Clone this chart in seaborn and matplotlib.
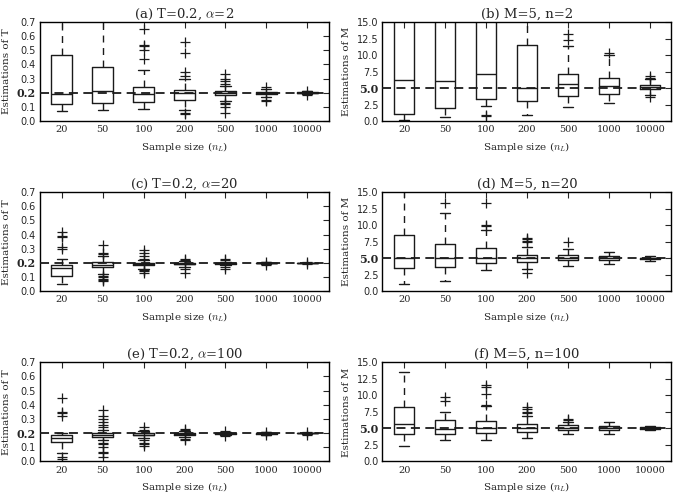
import matplotlib
matplotlib.use("Agg")
import matplotlib.pyplot as plt
import seaborn as sns

sizes = ["20", "50", "100", "200", "500", "1000", "10000"]

# (a) T=0.2, alpha=2
a_q1 = [0.12, 0.13, 0.135, 0.15, 0.185, 0.19, 0.197]
a_med = [0.195, 0.215, 0.195, 0.20, 0.20, 0.198, 0.200]
a_q3 = [0.47, 0.38, 0.24, 0.218, 0.215, 0.205, 0.203]
a_lo = [0.07, 0.08, 0.085, 0.08, 0.14, 0.17, 0.19]
a_hi = [0.95, 0.95, 0.36, 0.30, 0.25, 0.23, 0.21]
a_fl = [[], [], [0.44, 0.50, 0.53, 0.54, 0.65],
        [0.05, 0.06, 0.32, 0.35, 0.48, 0.56],
        [0.06, 0.10, 0.12, 0.13, 0.26, 0.28, 0.30, 0.33],
        [0.14, 0.15, 0.24], [0.185, 0.215]]

# (b) M=5, n=2
b_q1 = [1.1, 2.0, 3.4, 3.0, 3.8, 4.1, 4.8]
b_med = [6.2, 6.0, 7.2, 5.0, 5.6, 5.3, 5.1]
b_q3 = [20.0, 20.0, 20.0, 11.5, 7.2, 6.6, 5.5]
b_lo = [0.2, 0.7, 2.3, 1.0, 2.2, 2.7, 3.9]
b_hi = [25.0, 25.0, 25.0, 25.0, 11.3, 10.0, 6.3]
b_fl = [[], [], [0.8, 1.0], [], [12.2, 13.2], [10.3], [3.6, 6.6, 6.8]]

# (c) T=0.2, alpha=20
c_q1 = [0.105, 0.17, 0.185, 0.19, 0.195, 0.197, 0.199]
c_med = [0.165, 0.185, 0.193, 0.195, 0.199, 0.200, 0.200]
c_q3 = [0.185, 0.205, 0.20, 0.20, 0.203, 0.202, 0.201]
c_lo = [0.05, 0.12, 0.16, 0.175, 0.185, 0.19, 0.197]
c_hi = [0.23, 0.25, 0.22, 0.215, 0.21, 0.208, 0.203]
c_fl = [[0.30, 0.31, 0.38, 0.39, 0.42],
        [0.07, 0.08, 0.09, 0.10, 0.11, 0.26, 0.27, 0.33],
        [0.13, 0.14, 0.15, 0.23, 0.25, 0.27, 0.29],
        [0.13, 0.16, 0.22, 0.23], [0.16, 0.17, 0.22, 0.23],
        [0.185, 0.21], [0.19, 0.21]]

# (d) M=5, n=20
d_q1 = [3.5, 3.7, 4.3, 4.4, 4.7, 4.8, 4.85]
d_med = [5.0, 5.0, 5.1, 5.0, 5.1, 5.1, 5.0]
d_q3 = [8.5, 7.2, 6.6, 5.5, 5.5, 5.4, 5.1]
d_lo = [1.1, 1.6, 3.2, 3.4, 3.9, 4.2, 4.6]
d_hi = [25.0, 11.9, 9.2, 6.7, 6.4, 6.0, 5.3]
d_fl = [[], [13.3], [9.9, 10.1, 13.3], [2.8, 7.4, 7.6, 7.9, 8.1], [7.4], [], []]

# (e) T=0.2, alpha=100
e_q1 = [0.135, 0.172, 0.185, 0.19, 0.195, 0.197, 0.199]
e_med = [0.165, 0.185, 0.19, 0.195, 0.199, 0.200, 0.200]
e_q3 = [0.19, 0.20, 0.20, 0.20, 0.202, 0.202, 0.201]
e_lo = [0.06, 0.15, 0.165, 0.175, 0.19, 0.19, 0.197]
e_hi = [0.20, 0.225, 0.215, 0.215, 0.21, 0.21, 0.203]
e_fl = [[0.02, 0.03, 0.32, 0.34, 0.35, 0.45],
        [0.03, 0.06, 0.07, 0.10, 0.12, 0.13, 0.24, 0.26, 0.28, 0.30, 0.32, 0.36],
        [0.11, 0.12, 0.13, 0.15, 0.22, 0.24],
        [0.15, 0.16, 0.225, 0.23], [0.18, 0.215], [0.185, 0.21], [0.19, 0.21]]

# (f) M=5, n=100
f_q1 = [4.1, 4.1, 4.3, 4.5, 4.8, 4.8, 4.85]
f_med = [5.6, 4.9, 5.0, 5.0, 5.1, 5.0, 5.0]
f_q3 = [8.3, 6.3, 6.1, 5.6, 5.5, 5.4, 5.15]
f_lo = [2.3, 3.2, 3.3, 3.5, 4.1, 4.2, 4.7]
f_hi = [13.6, 7.5, 8.4, 6.9, 6.0, 5.9, 5.3]
f_fl = [[], [9.1, 9.8], [8.6, 10.2, 11.2, 11.6], [7.4, 7.5, 8.0, 8.3], [6.3, 6.5], [], []]

sns.set_theme(style="white")
plt.rcParams.update({
    "font.family": "DejaVu Serif",
    "mathtext.fontset": "cm",
    "xtick.direction": "in",
    "ytick.direction": "in",
    "xtick.top": True,
    "ytick.right": True,
    "axes.edgecolor": "black",
    "axes.linewidth": 1.0,
})


def draw_panel(ax, q1, med, q3, lo, hi, fl, true, ylim, yticks, title, ylabel):
    stats = []
    for i in range(len(sizes)):
        stats.append(dict(q1=q1[i], med=med[i], q3=q3[i],
                          whislo=lo[i], whishi=hi[i], fliers=fl[i]))
    ax.bxp(stats, positions=range(1, len(sizes) + 1), widths=0.5,
           boxprops=dict(color="k", lw=1.0),
           medianprops=dict(color="k", lw=1.0),
           whiskerprops=dict(color="k", lw=1.0, ls=(0, (5, 4))),
           capprops=dict(color="k", lw=1.0),
           flierprops=dict(marker="+", markeredgecolor="k", markersize=7,
                           markeredgewidth=0.9, ls="none"))
    ax.axhline(true, color="k", lw=1.3, ls=(0, (5, 3)), zorder=5)
    ax.set_xlim(0.47, 7.53)
    ax.set_ylim(*ylim)
    ax.set_yticks(yticks)
    ax.set_xticks(range(1, len(sizes) + 1))
    ax.set_xticklabels(sizes, fontsize=7)
    labs = ax.set_yticklabels(["%.1f" % t for t in yticks], family="DejaVu Sans", fontsize=7)
    for t, lab in zip(yticks, labs):
        if abs(t - true) < 1e-9:
            lab.set_family("DejaVu Serif")
            lab.set_fontweight("bold")
            lab.set_fontsize(8)
    ax.tick_params(length=4, width=0.8, pad=3)
    ax.set_title(title, fontsize=9.5, pad=3)
    ax.set_ylabel(ylabel, fontsize=7.5)
    ax.set_xlabel("Sample size ($n_L$)", fontsize=7.5)


fig, axes = plt.subplots(3, 2, figsize=(6.78, 4.95), dpi=100)
fig.subplots_adjust(left=0.059, right=0.9904, top=0.9556, bottom=0.0677,
                    wspace=0.185, hspace=0.716)

t_ticks = [0.0, 0.1, 0.2, 0.3, 0.4, 0.5, 0.6, 0.7]
m_ticks = [0.0, 2.5, 5.0, 7.5, 10.0, 12.5, 15.0]

draw_panel(axes[0, 0], a_q1, a_med, a_q3, a_lo, a_hi, a_fl, 0.2, (0, 0.7), t_ticks,
           r"(a) T=0.2, $\alpha$=2", "Estimations of T")
draw_panel(axes[0, 1], b_q1, b_med, b_q3, b_lo, b_hi, b_fl, 5.0, (0, 15), m_ticks,
           "(b) M=5, n=2", "Estimations of M")
draw_panel(axes[1, 0], c_q1, c_med, c_q3, c_lo, c_hi, c_fl, 0.2, (0, 0.7), t_ticks,
           r"(c) T=0.2, $\alpha$=20", "Estimations of T")
draw_panel(axes[1, 1], d_q1, d_med, d_q3, d_lo, d_hi, d_fl, 5.0, (0, 15), m_ticks,
           "(d) M=5, n=20", "Estimations of M")
draw_panel(axes[2, 0], e_q1, e_med, e_q3, e_lo, e_hi, e_fl, 0.2, (0, 0.7), t_ticks,
           r"(e) T=0.2, $\alpha$=100", "Estimations of T")
draw_panel(axes[2, 1], f_q1, f_med, f_q3, f_lo, f_hi, f_fl, 5.0, (0, 15), m_ticks,
           "(f) M=5, n=100", "Estimations of M")

fig.savefig("out.png", dpi=100)
